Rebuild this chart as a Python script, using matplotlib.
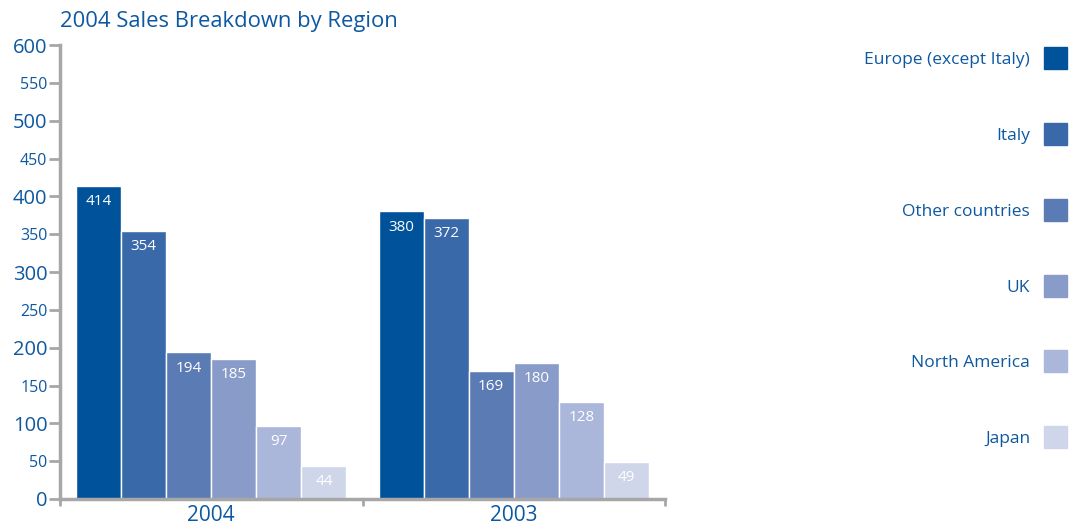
import numpy as np
from matplotlib import pyplot as plt
from matplotlib.patches import Rectangle

years = ['2004', '2003']
regions = ['Europe (except Italy)', 'Italy', 'Other countries', 'UK', 'North America', 'Japan']
sales_2004 = [414, 354, 194, 185, 97, 44]
sales_2003 = [380, 372, 169, 180, 128, 49]
colors = ['#00529b', '#3a69aa', '#5b7bb4', '#899bc9', '#aab6da', '#d0d6ea']

txt = '#0d58a0'
grey = '#a7a7a7'
plt.rcParams['font.family'] = ['Open Sans', 'DejaVu Sans']

fig = plt.figure(figsize=(10.7, 5.27), dpi=100)
ax = fig.add_axes([60 / 1070, 28 / 527, 605 / 1070, 454 / 527])

w = 0.149
centers = [0.5, 1.5]
for gi, vals in enumerate([sales_2004, sales_2003]):
    for i, v in enumerate(vals):
        x = centers[gi] + (i - 2.5) * w
        ax.bar(x, v, width=w, color=colors[i], edgecolor='white', linewidth=1)
        ax.text(x, v - 11, str(v), color='white', ha='center', va='top', fontsize=11)

ax.set_xlim(0, 2)
ax.set_ylim(0, 600)
ax.set_yticks(np.arange(0, 601, 100))
ax.set_yticks(np.arange(50, 600, 100), minor=True)
ax.set_yticklabels([str(v) for v in range(0, 601, 100)], fontsize=14.5, color=txt)
ax.set_yticklabels([str(v) for v in range(50, 600, 100)], minor=True, fontsize=11.5, color=txt)
ax.tick_params(axis='y', which='both', length=8, width=2, color=grey, pad=1)

ax.set_xticks([0, 1, 2])
ax.set_xticklabels(['', '', ''])
ax.set_xticks(centers, minor=True)
ax.set_xticklabels(years, minor=True, fontsize=15, color=txt)
ax.tick_params(axis='x', which='major', length=5, width=2, color=grey)
ax.tick_params(axis='x', which='minor', length=0, pad=4)

for s in ['top', 'right']:
    ax.spines[s].set_visible(False)
for s in ['left', 'bottom']:
    ax.spines[s].set_color(grey)
    ax.spines[s].set_linewidth(2.5)

fig.text(60 / 1070, 1 - 21 / 527, '2004 Sales Breakdown by Region', color=txt,
         fontsize=15.8, ha='left', va='center')

leg_y = [58, 134, 210, 286, 361, 437]
for name, c, y in zip(regions, colors, leg_y):
    fig.text(1030 / 1070, 1 - (y + 2) / 527, name, color=txt, fontsize=12.5, ha='right', va='center')
    fig.add_artist(Rectangle((1044 / 1070, 1 - (y + 11) / 527), 23 / 1070, 22 / 527,
                             transform=fig.transFigure, color=c))

fig.savefig('out.png', dpi=100)
